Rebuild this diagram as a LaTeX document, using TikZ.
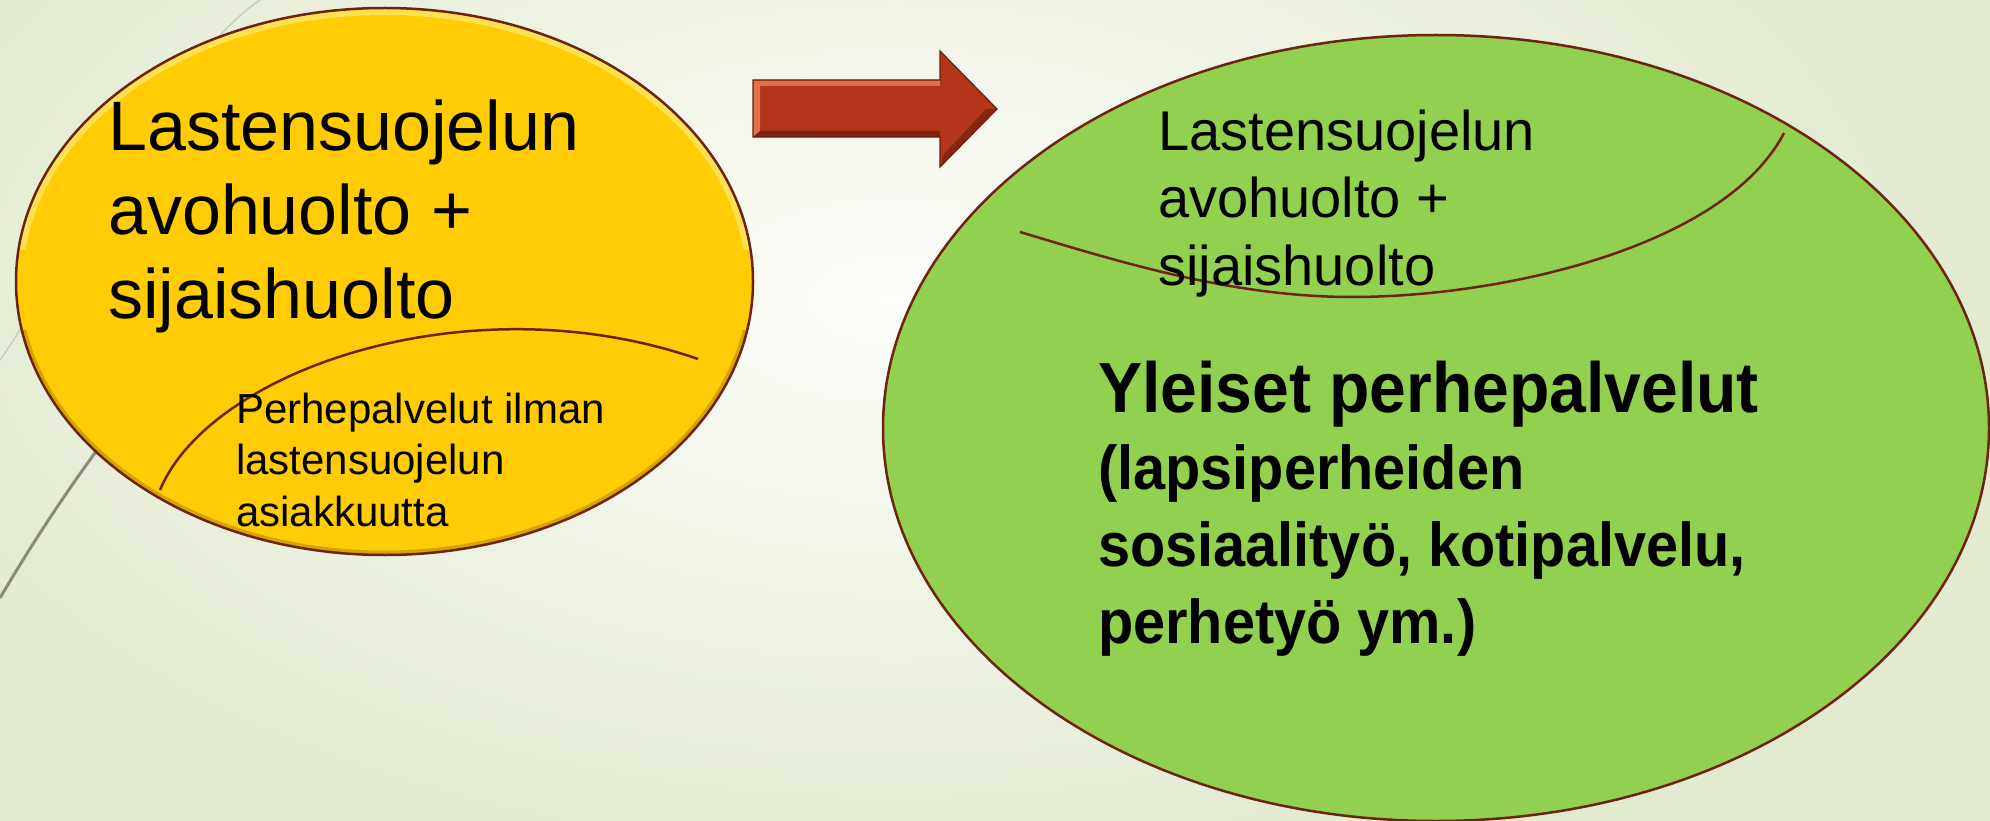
\documentclass[tikz,border=0pt]{standalone}
\usepackage{fontspec}
\setmainfont{Liberation Sans}
\newfontfamily\narrowbold[FakeStretch=0.93]{Liberation Sans Bold}
\definecolor{bgedge}{HTML}{E2EAD0}
\definecolor{bgmid}{HTML}{FDFDFA}
\definecolor{sunfill}{HTML}{FFCC05}
\definecolor{sunhi}{HTML}{FFE866}
\definecolor{sunlo}{HTML}{B88A00}
\definecolor{leaffill}{HTML}{92D050}
\definecolor{rim}{HTML}{6E2210}
\definecolor{arrowred}{HTML}{B3361A}
\definecolor{arrowhi}{HTML}{E2704A}
\definecolor{arrowlo}{HTML}{6A1D0C}
\definecolor{facet}{HTML}{8A8A76}
\definecolor{facetthin}{HTML}{C9CDBF}
\tikzset{
  rimline/.style={draw=rim,line width=2.5},
  bigtxt/.style={anchor=base west,inner sep=0,align=left,font=\fontsize{70}{84}\selectfont},
  midtxt/.style={anchor=base west,inner sep=0,align=left,font=\fontsize{56}{67.5}\selectfont},
  smalltxt/.style={anchor=base west,inner sep=0,align=left,font=\fontsize{42}{51.5}\selectfont},
  boldtxt/.style={anchor=base west,inner sep=0,align=left,font=\narrowbold\fontsize{62}{77}\selectfont}
}
\begin{document}
\begin{tikzpicture}[x=1pt,y=-1pt]
\useasboundingbox (0,0) rectangle (1990,821);
\fill[bgedge] (0,0) rectangle (1990,821);
\shade[inner color=bgmid,outer color=bgedge] (-200,-300) rectangle (1990,900);

\draw[facetthin,line width=1.5] (0,360) .. controls (40,306) and (170,60) .. (260,0);
\draw[facet,line width=3] (0,598) .. controls (40,530) and (110,420) .. (220,300);

\fill[sunfill] (384.5,281.5) ellipse [x radius=368.5,y radius=273.5];
\begin{scope}
  \clip (384.5,281.5) ellipse [x radius=368.5,y radius=273.5];
  \begin{scope}
    \clip (0,0) rectangle (1000,250);
    \draw[sunhi,line width=14,opacity=.8] (384.5,281.5) ellipse [x radius=368.5,y radius=273.5];
  \end{scope}
  \begin{scope}
    \clip (0,330) rectangle (1000,600);
    \draw[sunlo,line width=9,opacity=.6] (384.5,281.5) ellipse [x radius=368.5,y radius=273.5];
  \end{scope}
\end{scope}
\draw[rimline] (384.5,281.5) ellipse [x radius=368.5,y radius=273.5];
\draw[rimline] (160,490) .. controls (210,370) and (470,280) .. (698,359);

\fill[leaffill] (1436,428) ellipse [x radius=553,y radius=393];
\draw[rimline] (1436,428) ellipse [x radius=553,y radius=393];
\draw[rimline] (1020,232) .. controls (1120,262) and (1232,297) .. (1352,297)
  .. controls (1500,297) and (1724,248) .. (1784,133);

\fill[arrowred] (753,80) -- (940,80) -- (940,51) -- (997,109) -- (940,167) -- (940,137) -- (753,137) -- cycle;
\fill[arrowhi] (753,80) -- (940,80) -- (940,86) -- (760,86) -- (760,131) -- (753,137) -- cycle;
\fill[arrowlo,opacity=.7] (753,137) -- (940,137) -- (940,131) -- (760,131) -- cycle;
\fill[arrowlo,opacity=.6] (940,167) -- (997,109) -- (986,109) -- (944,154) -- cycle;
\draw[arrowlo,line width=1.2] (753,80) -- (940,80) -- (940,51) -- (997,109) -- (940,167) -- (940,137) -- (753,137) -- cycle;

\node[bigtxt] (oldcore) at (108,318) {Lastensuojelun\\avohuolto +\\sijaishuolto};
\node[smalltxt] (oldfamily) at (236,526) {Perhepalvelut ilman\\lastensuojelun\\asiakkuutta};
\node[midtxt] (newcore) at (1158,285) {Lastensuojelun\\avohuolto +\\sijaishuolto};
\node[boldtxt] (newfamily) at (1098,643) {{\fontsize{71}{77}\selectfont Yleiset perhepalvelut}\\(lapsiperheiden\\sosiaalityö, kotipalvelu,\\perhetyö ym.)};
\end{tikzpicture}
\end{document}
